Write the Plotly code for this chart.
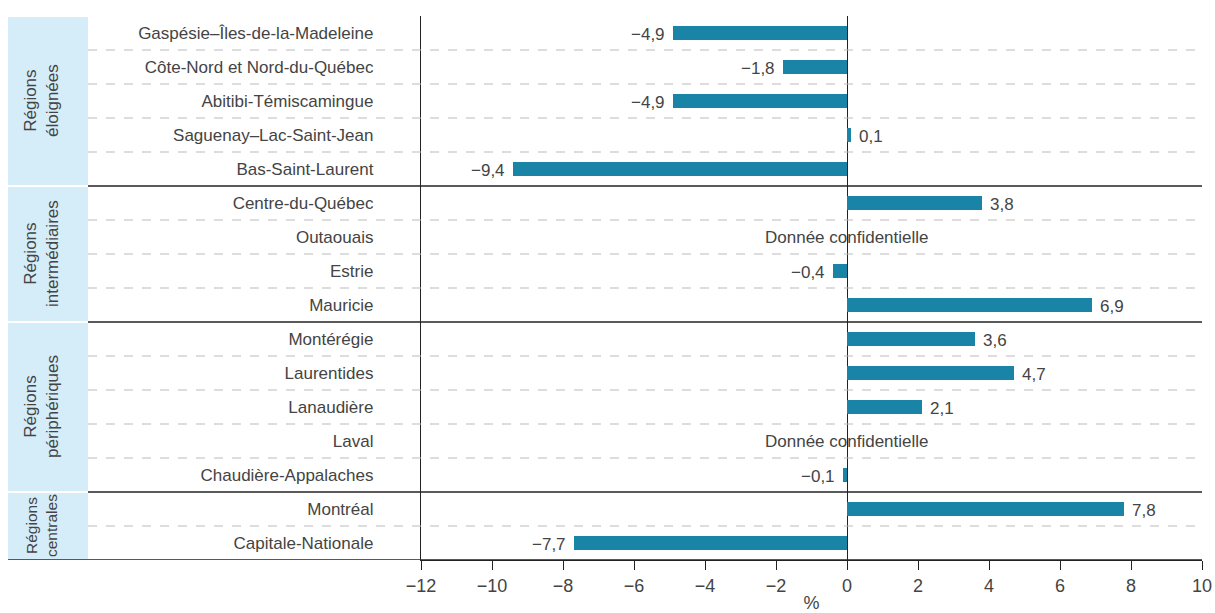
import plotly.graph_objects as go

regions = ["Gaspésie–Îles-de-la-Madeleine", "Côte-Nord et Nord-du-Québec", "Abitibi-Témiscamingue",
           "Saguenay–Lac-Saint-Jean", "Bas-Saint-Laurent",
           "Centre-du-Québec", "Outaouais", "Estrie", "Mauricie",
           "Montérégie", "Laurentides", "Lanaudière", "Laval", "Chaudière-Appalaches",
           "Montréal", "Capitale-Nationale"]
values = [-4.9, -1.8, -4.9, 0.1, -9.4,
          3.8, None, -0.4, 6.9,
          3.6, 4.7, 2.1, None, -0.1,
          7.8, -7.7]
groups = ["Régions<br>éloignées", "Régions<br>intermédiaires", "Régions<br>périphériques", "Régions<br>centrales"]
group_sizes = [5, 4, 5, 2]
confidential_text = "Donnée confidentielle"
x_ticks = [-12, -10, -8, -6, -4, -2, 0, 2, 4, 6, 8, 10]

BAR = "#1a84a6"
TXT = "#444444"
LINE = "#222222"
FONT = "Liberation Sans"

def fmt(v):
    s = f"{abs(v):.1f}".replace(".", ",")
    return ("−" + s) if v < 0 else s

fig = go.Figure()
fig.add_trace(go.Bar(
    x=[v if v is not None else 0 for v in values], y=regions, orientation="h",
    marker=dict(color=BAR, line=dict(width=0)), width=0.41, hoverinfo="skip"))

annotations = []
for r, v in zip(regions, values):
    if v is None:
        annotations.append(dict(x=0, y=r, xref="x", yref="y", text=confidential_text, showarrow=False,
                                xanchor="center", font=dict(family=FONT, size=17, color=TXT)))
    else:
        annotations.append(dict(x=v, y=r, xref="x", yref="y", text=fmt(v), showarrow=False,
                                xanchor="left" if v >= 0 else "right", xshift=6 if v >= 0 else -6,
                                yshift=-1, font=dict(family=FONT, size=17, color=TXT)))

L, R, T, B = 421, 1202, 16, 560
W = R - L
def px(xp):
    return (xp - L) / W

shapes = []
start = 0
n = len(regions)
for gi, (g, size) in enumerate(zip(groups, group_sizes)):
    y0 = start - 0.5
    y1 = start + size - 0.5
    shapes.append(dict(type="rect", xref="paper", yref="y", x0=px(8), x1=px(88),
                       y0=y0 + 0.03, y1=y1 - 0.03,
                       fillcolor="#d5ecf9", line=dict(width=0), layer="below"))
    annotations.append(dict(xref="paper", yref="y", x=px(41), y=(y0 + y1) / 2, text=g, textangle=-90,
                            xanchor="center", yanchor="middle",
                            showarrow=False, font=dict(family=FONT, size=17 if size > 2 else 15.5, color=TXT),
                            align="center"))
    for k in range(1, size):
        yy = start + k - 0.5
        shapes.append(dict(type="line", xref="paper", yref="y", x0=px(88), x1=1, y0=yy, y1=yy,
                           line=dict(color="#bbbbbb", width=1, dash="dash")))
    if gi < len(groups) - 1:
        shapes.append(dict(type="line", xref="paper", yref="y", x0=px(88), x1=1, y0=y1, y1=y1,
                           line=dict(color=LINE, width=1.3)))
    start += size

shapes.append(dict(type="line", xref="paper", yref="y", x0=px(8), x1=1, y0=n - 0.5, y1=n - 0.5,
                   line=dict(color=LINE, width=1.3)))

fig.update_layout(
    width=1215, height=613,
    margin=dict(l=L, r=1215 - R, t=T, b=613 - B, autoexpand=False),
    paper_bgcolor="white", plot_bgcolor="white",
    showlegend=False, bargap=0,
    shapes=shapes, annotations=annotations,
    font=dict(family=FONT, color=TXT),
    xaxis=dict(range=[-12, 10], tickvals=x_ticks, automargin=False,
               ticktext=[("−" + str(abs(t))) if t < 0 else str(t) for t in x_ticks],
               ticks="outside", ticklen=9, tickcolor=LINE, tickwidth=1.3, showgrid=False,
               zeroline=True, zerolinecolor=LINE, zerolinewidth=1.3,
               showline=True, linecolor=LINE, linewidth=1.3,
               tickfont=dict(family=FONT, size=18, color=TXT),
               title=dict(text="%", font=dict(family=FONT, size=18, color=TXT), standoff=7)),
    yaxis=dict(autorange=False, range=[n - 0.5, -0.5], automargin=False,
               showgrid=False, showline=True, linecolor=LINE, linewidth=1.3,
               ticks="", ticklabelstandoff=43, tickfont=dict(family=FONT, size=17, color=TXT)),
)

fig.write_html("out.html", config={"displayModeBar": False},
               post_script="document.body.style.margin='0';document.body.style.overflow='hidden';")
